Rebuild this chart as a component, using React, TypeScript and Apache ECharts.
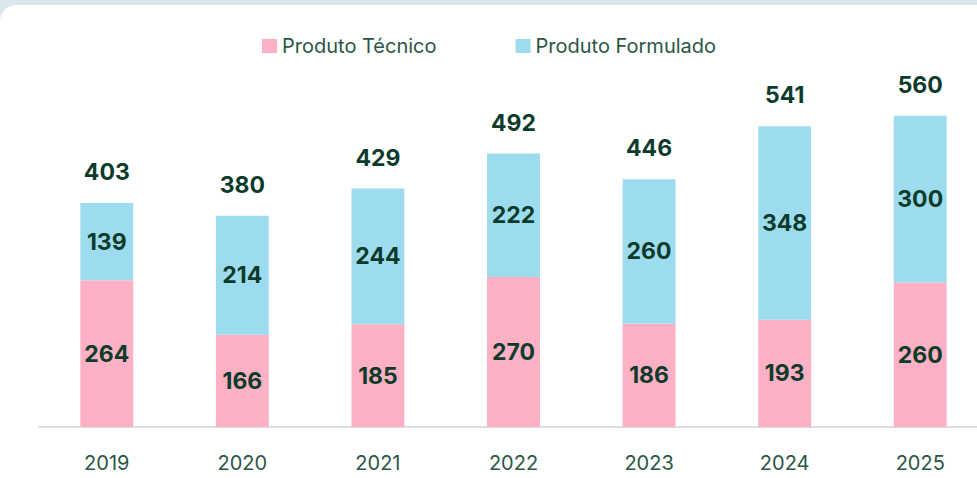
import React, { useEffect, useRef } from "react";
import * as echarts from "echarts";

const years = ["2019", "2020", "2021", "2022", "2023", "2024", "2025"];
const tecnico = [264, 166, 185, 270, 186, 193, 260];
const formulado = [139, 214, 244, 222, 260, 348, 300];
const totals = [403, 380, 429, 492, 446, 541, 560];

const PINK = "#FEB0C4";
const BLUE = "#9DDCEE";
const DARK = "#0C3B2B";
const TEXT = "#2B5646";
const FONT = "Inter, 'Noto Sans', sans-serif";

export default function App() {
  const ref = useRef<HTMLDivElement>(null);
  useEffect(() => {
    if (!ref.current) return;
    const chart = echarts.init(ref.current, null, { renderer: "svg" });
    const barLabel = {
      show: true,
      position: "inside" as const,
      color: DARK,
      fontSize: 23,
      fontWeight: "bold" as const,
      fontFamily: FONT,
    };
    chart.setOption({
      animation: false,
      legend: {
        data: ["Produto Técnico", "Produto Formulado"],
        left: 257,
        top: 31,
        itemWidth: 15,
        itemHeight: 14,
        itemGap: 79,
        icon: "rect",
        textStyle: { color: TEXT, fontSize: 20, fontFamily: FONT },
      },
      grid: { left: 39, right: 0, top: 38, bottom: 51, containLabel: false },
      xAxis: {
        type: "category",
        data: years,
        axisLine: { show: true, lineStyle: { color: "#DEDEDE", width: 2 } },
        axisTick: { show: false },
        axisLabel: { color: TEXT, fontSize: 20, fontFamily: FONT, margin: 26 },
      },
      yAxis: {
        type: "value",
        min: 0,
        max: 700,
        show: false,
        splitLine: { show: false },
      },
      series: [
        {
          name: "Produto Técnico",
          type: "bar",
          stack: "total",
          data: tecnico,
          barWidth: "39%",
          itemStyle: { color: PINK },
          label: barLabel,
        },
        {
          name: "Produto Formulado",
          type: "bar",
          stack: "total",
          data: formulado,
          barWidth: "39%",
          itemStyle: { color: BLUE },
          label: barLabel,
        },
        {
          name: "Total",
          type: "line",
          data: totals,
          symbol: "circle",
          symbolSize: 1,
          showSymbol: true,
          itemStyle: { color: "rgba(0,0,0,0)" },
          lineStyle: { opacity: 0, width: 0 },
          label: {
            show: true,
            position: "top",
            distance: 19,
            color: DARK,
            fontSize: 23,
            fontWeight: "bold",
            fontFamily: FONT,
          },
          z: 5,
        },
      ],
    });
    return () => chart.dispose();
  }, []);

  return (
    <div style={{ position: "fixed", left: 0, top: 0, width: 977, height: 478, background: "#DCE7ED", overflow: "hidden" }}>
      <div style={{ position: "absolute", left: 0, top: 5, width: 1000, height: 500, background: "#FFFFFF", borderTopLeftRadius: 16 }} />
      <div ref={ref} style={{ position: "absolute", left: 0, top: 0, width: 988, height: 478 }} />
    </div>
  );
}
